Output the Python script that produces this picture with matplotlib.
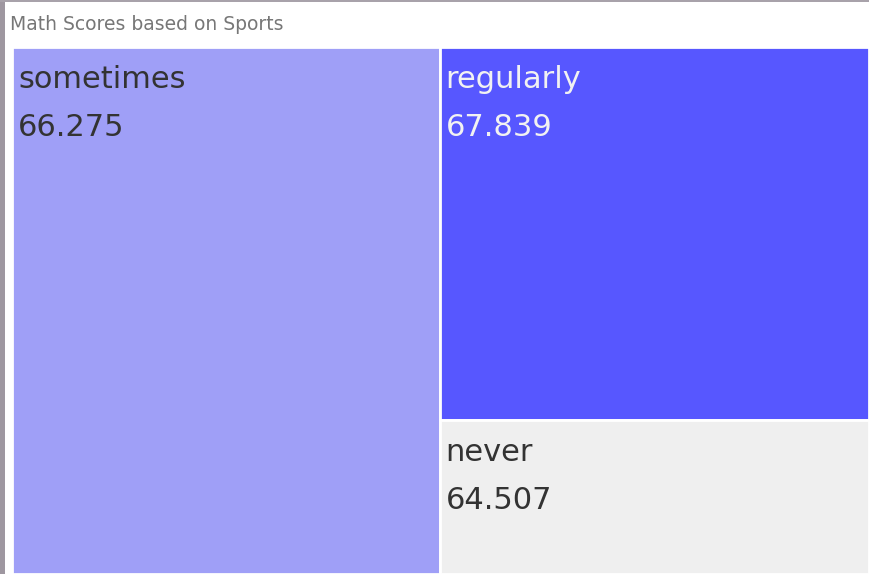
import numpy as np
import matplotlib
matplotlib.use("Agg")
import matplotlib.pyplot as plt
from matplotlib.patches import Rectangle
from matplotlib.colors import LinearSegmentedColormap, Normalize

# data (sizes estimated from the tile areas, scores read from labels)
categories = ["sometimes", "regularly", "never"]
counts = [15213, 10793, 4475]
math_means = [66.275, 67.839, 64.507]

W, H = 869, 574
fig = plt.figure(figsize=(W / 100, H / 100), dpi=100)
fig.patch.set_facecolor("white")

# dashboard frame bits
fig.patches.append(Rectangle((0, 0), 5 / W, 1, transform=fig.transFigure,
                             facecolor="#9e97a0", edgecolor="none"))
fig.patches.append(Rectangle((0, 1 - 2 / H), 1, 2 / H, transform=fig.transFigure,
                             facecolor="#a8a2aa", edgecolor="none"))
fig.text(10 / W, 1 - 24 / H, "Math Scores based on Sports", fontsize=13.5,
         color="#777777", va="center", ha="left")

left, top = 12, 47
ax = fig.add_axes([left / W, 0, (W - left) / W, (H - top) / H])
ax.set_xlim(0, 1)
ax.set_ylim(0, 1)
ax.axis("off")

cmap = LinearSegmentedColormap.from_list("tab_blue", ["#efefef", "#5757ff"])
norm = Normalize(min(math_means), max(math_means))

# simple treemap: biggest takes a full-height column, the rest stack on the right
order = np.argsort(counts)[::-1]
total = float(sum(counts))
first = order[0]
w0 = counts[first] / total
rects = {first: (0, 0, w0, 1)}
rest = order[1:]
rest_total = float(sum(counts[i] for i in rest))
ytop = 1.0
for i in rest:
    h = counts[i] / rest_total
    rects[i] = (w0, ytop - h, 1 - w0, h)
    ytop -= h

for i, (x, y, w, h) in rects.items():
    c = cmap(norm(math_means[i]))
    ax.add_patch(Rectangle((x, y), w, h, facecolor=c, edgecolor="white", linewidth=2))
    tc = "#f2f2f2" if norm(math_means[i]) > 0.8 else "#333333"
    ax.annotate(categories[i], xy=(x, y + h), xytext=(6, -41), textcoords="offset pixels",
                fontsize=22, color=tc, ha="left", va="baseline")
    ax.annotate("{:.3f}".format(math_means[i]), xy=(x, y + h), xytext=(6, -89),
                textcoords="offset pixels", fontsize=22, color=tc, ha="left", va="baseline")

fig.savefig("out.png", dpi=100)
